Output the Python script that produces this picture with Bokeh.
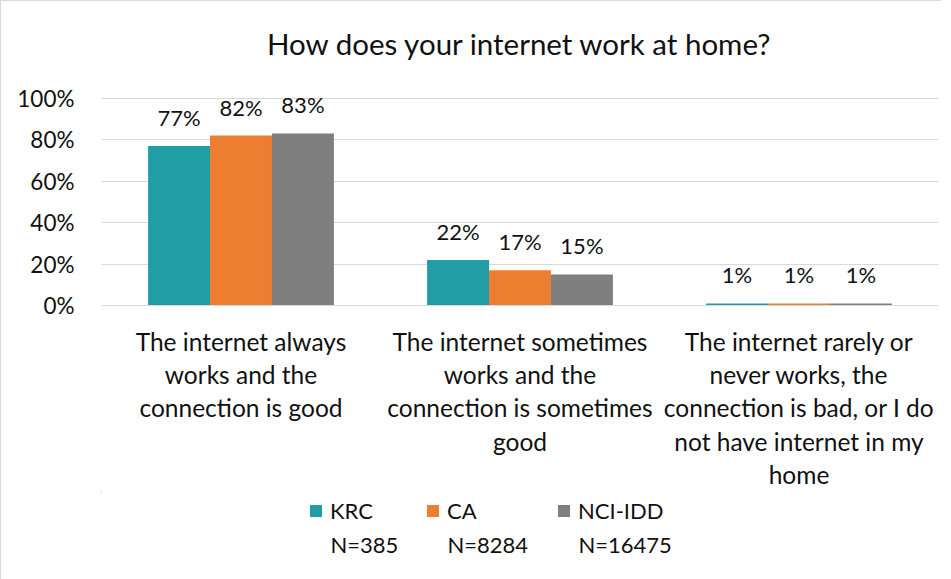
from bokeh.plotting import figure
from bokeh.layouts import column
from bokeh.models import (ColumnDataSource, FactorRange, Legend, LegendItem, LabelSet, Label,
                          NumeralTickFormatter, Range1d, FixedTicker)
from bokeh.transform import dodge
from bokeh.core.properties import value
from bokeh.embed import file_html
from bokeh.resources import INLINE

categories = [
    "The internet always\nworks and the\nconnection is good",
    "The internet sometimes\nworks and the\nconnection is sometimes\ngood",
    "The internet rarely or\nnever works, the\nconnection is bad, or I do\nnot have internet in my\nhome",
]
series = ["KRC", "CA", "NCI-IDD"]
sample_sizes = ["N=385", "N=8284", "N=16475"]
krc = [0.77, 0.22, 0.01]
ca = [0.82, 0.17, 0.01]
nci = [0.83, 0.15, 0.01]
colors = ["#219DA6", "#ED7D31", "#7F7F7F"]
y_ticks = [0, 0.2, 0.4, 0.6, 0.8, 1.0]

FONT = "Lato"
TXT = "#111111"
W = 940
LEFT, RIGHT = 100, 3

src = ColumnDataSource(dict(
    cat=categories, KRC=krc, CA=ca, NCI=nci,
    KRC_l=[f"{round(v*100)}%" for v in krc],
    CA_l=[f"{round(v*100)}%" for v in ca],
    NCI_l=[f"{round(v*100)}%" for v in nci],
))

p = figure(x_range=FactorRange(*categories, range_padding=0), y_range=Range1d(0, 1.1),
           width=W, height=490, output_backend="svg", toolbar_location=None,
           min_border_left=LEFT, min_border_right=RIGHT, min_border_top=76, min_border_bottom=185,
           title="How does your internet work at home?")

p.title.text_font = FONT
p.title.text_font_size = "29.5px"
p.title.text_font_style = "normal"
p.title.text_color = TXT
p.title.align = "center"
p.title.standoff = 33

bw = 0.222
offsets = [-bw, 0.0, bw]
cols = ["KRC", "CA", "NCI"]
for col, off, c in zip(cols, offsets, colors):
    p.vbar(x=dodge("cat", off, range=p.x_range), top=col, width=bw, source=src,
           fill_color=c, line_color=None)
    lab = LabelSet(x=dodge("cat", off, range=p.x_range), y=col, text=col + "_l", source=src,
                   text_align="center", text_baseline="bottom", y_offset=15,
                   text_font=value(FONT), text_font_size="22px", text_color=TXT)
    p.add_layout(lab)

p.outline_line_color = None
p.background_fill_color = "white"
p.border_fill_color = "white"

p.yaxis.ticker = FixedTicker(ticks=y_ticks)
p.yaxis.formatter = NumeralTickFormatter(format="0%")
p.yaxis.axis_line_color = None
p.yaxis.major_tick_line_color = None
p.yaxis.minor_tick_line_color = None
p.yaxis.major_label_standoff = 21
p.yaxis.major_label_text_font = FONT
p.yaxis.major_label_text_font_size = "22.5px"
p.yaxis.major_label_text_color = TXT

p.xaxis.axis_line_color = "#D9D9D9"
p.xaxis.major_tick_line_color = None
p.xaxis.minor_tick_line_color = None
p.xaxis.major_label_standoff = 15
p.xaxis.major_label_orientation = "horizontal"
p.xaxis.major_label_text_font = FONT
p.xaxis.major_label_text_font_size = "24.5px"
p.xaxis.major_label_text_color = TXT
p.xaxis.major_label_text_line_height = 1.15

p.xgrid.grid_line_color = None
p.ygrid.grid_line_color = "#D9D9D9"
p.ygrid.ticker = FixedTicker(ticks=y_ticks)

# legend strip below the chart: data units equal page pixels (x from left, y from top)
QH = 88
QTOP = 490
q = figure(width=W, height=QH, output_backend="svg", toolbar_location=None,
           min_border_left=LEFT, min_border_right=RIGHT, min_border_top=0, min_border_bottom=0,
           x_range=Range1d(LEFT, W - RIGHT), y_range=Range1d(QTOP + QH, QTOP))
q.axis.visible = False
q.grid.grid_line_color = None
q.outline_line_color = None
q.background_fill_color = "white"
q.border_fill_color = "white"

legend_x = [307, 424, 555]     # left edge of each legend square (page px)
row1_center, row2_center = 510, 543
GLYPH, STANDOFF = 15, 7
for s, n, c, lx, col in zip(series, sample_sizes, colors, legend_x, cols):
    # legend-only renderer: shares the bar data; its marks fall outside this strip's view
    r = q.vbar(x=col, top=col, width=bw, source=src, fill_color=c, line_color=None)
    item_h = 22 * 1.2
    legend = Legend(items=[LegendItem(label=s, renderers=[r])], orientation="horizontal",
                    location=(lx - LEFT, QH - (row1_center - QTOP) - item_h / 2),
                    glyph_width=GLYPH, glyph_height=GLYPH, label_standoff=STANDOFF,
                    padding=0, margin=0, border_line_color=None, background_fill_alpha=0,
                    label_text_font=FONT, label_text_font_size="22px", label_text_color=TXT)
    q.add_layout(legend, "center")
    q.add_layout(Label(x=lx + GLYPH + STANDOFF, y=row2_center, text=n,
                       text_baseline="middle", text_align="left",
                       text_font=FONT, text_font_size="22px", text_color=TXT))

layout = column(p, q, spacing=0, styles={"border-left": "1px solid #D9D9D9",
                                         "border-top": "1px solid #D9D9D9"})
open("out.html", "w").write(file_html(layout, INLINE))
